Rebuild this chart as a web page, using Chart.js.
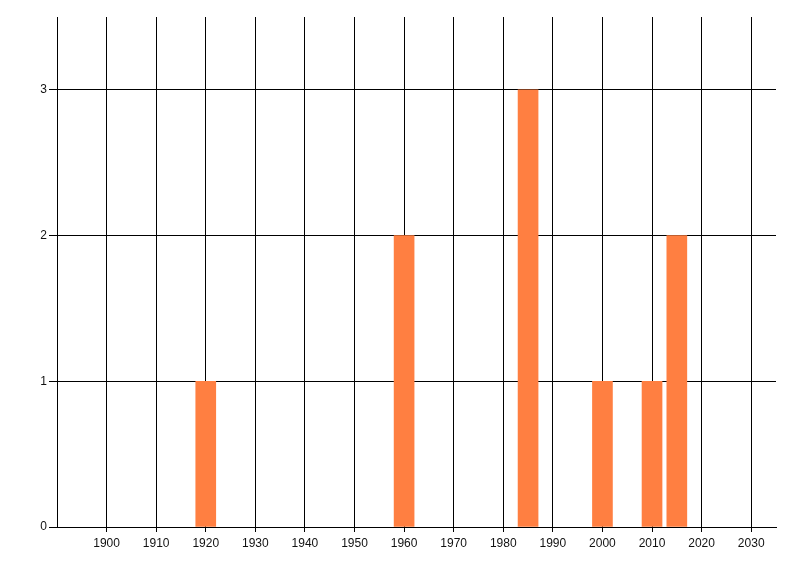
<!DOCTYPE html>
<html>
<head>
<meta charset="utf-8">
<script src="https://cdn.jsdelivr.net/npm/chart.js@4"></script>
<style>
  html, body { margin: 0; padding: 0; background: #fff; }
  #wrap { width: 800px; height: 576px; }
</style>
</head>
<body>
<div id="wrap"><canvas id="chart" width="800" height="576"></canvas></div>
<script>
const years = [1920, 1960, 1985, 2000, 2010, 2015]
const counts = [1, 2, 3, 1, 1, 2]
const xTicks = [1900, 1910, 1920, 1930, 1940, 1950, 1960, 1970, 1980, 1990, 2000, 2010, 2020, 2030]
const yTicks = [0, 1, 2, 3]

const points = years.map((y, i) => ({ x: y, y: counts[i] }))

new Chart(document.getElementById("chart"), {
  type: "bar",
  data: {
    datasets: [{
      data: points,
      backgroundColor: "#ff7f41",
      borderWidth: 0,
      barThickness: 20,
    }]
  },
  options: {
    responsive: false,
    animation: false,
    layout: { padding: { top: 17, right: 24, left: 0, bottom: 0 } },
    plugins: {
      legend: { display: false },
      tooltip: { enabled: false }
    },
    scales: {
      x: {
        type: "linear",
        min: 1890,
        max: 2035,
        offset: false,
        afterBuildTicks: (s) => { s.ticks = xTicks.map(v => ({ value: v })) },
        afterFit: (s) => { s.height = 49 },
        ticks: {
          autoSkip: false,
          maxRotation: 0,
          color: "#111",
          padding: 4,
          font: { family: "Liberation Sans", size: 12 },
          callback: (v) => String(v)
        },
        grid: { offset: false, color: "#000", lineWidth: 1, tickLength: 5, drawTicks: true },
        border: { color: "#000", width: 1 }
      },
      y: {
        min: 0,
        max: 3.5,
        afterBuildTicks: (s) => { s.ticks = yTicks.map(v => ({ value: v })) },
        afterFit: (s) => { s.width = 57 },
        ticks: {
          color: "#111",
          padding: 2,
          font: { family: "Liberation Sans", size: 12 },
          callback: (v) => String(v)
        },
        grid: { color: "#000", lineWidth: 1, tickLength: 8, drawTicks: true },
        border: { color: "#000", width: 1 }
      }
    }
  }
})
</script>
</body>
</html>
